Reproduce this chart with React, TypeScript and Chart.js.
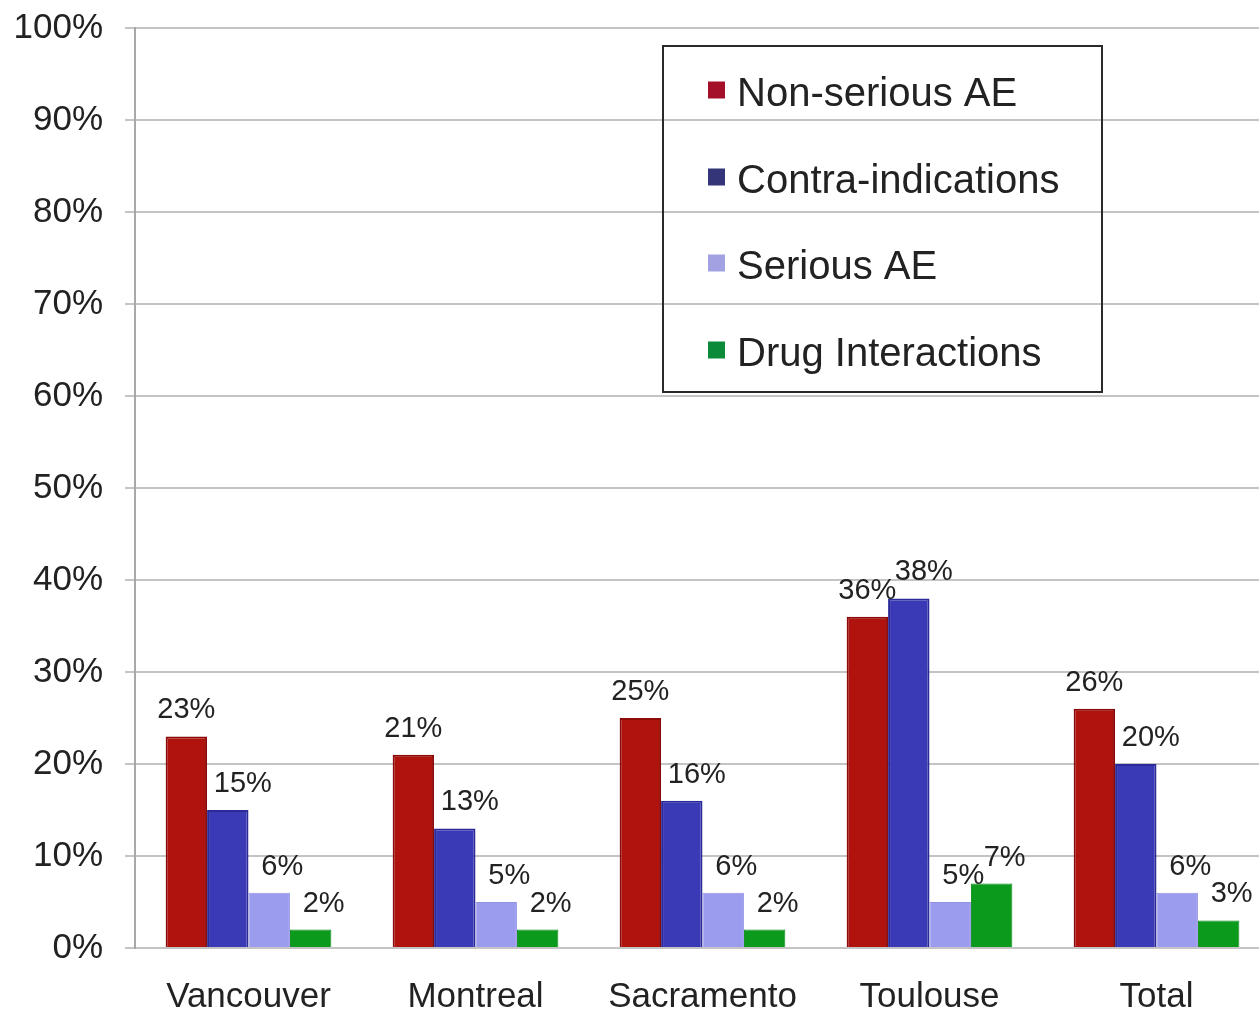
import { useEffect, useRef } from "react";
import { Chart, registerables } from "chart.js";

Chart.register(...registerables);

// Sites and the overall total
const categories = ["Vancouver", "Montreal", "Sacramento", "Toulouse", "Total"];

// Share of cases (%) per issue type
const nonSeriousAE = [23, 21, 25, 36, 26];
const contraIndications = [15, 13, 16, 38, 20];
const seriousAE = [6, 5, 6, 5, 6];
const drugInteractions = [2, 2, 2, 7, 3];

const seriesNames = ["Non-serious AE", "Contra-indications", "Serious AE", "Drug Interactions"];

const FONT = "'Liberation Sans', Arial, Helvetica, sans-serif";
const TEXT = "#222222";

// Percent labels drawn above each bar
const valueLabels = {
  id: "valueLabels",
  afterDatasetsDraw(chart: any) {
    const ctx = chart.ctx;
    ctx.save();
    ctx.font = `29px ${FONT}`;
    ctx.fillStyle = TEXT;
    ctx.textAlign = "center";
    ctx.textBaseline = "middle";
    chart.data.datasets.forEach((ds: any, di: number) => {
      const meta = chart.getDatasetMeta(di);
      const dx = ds.labelShift || 0;
      meta.data.forEach((bar: any, i: number) => {
        ctx.fillText(`${ds.data[i]}%`, bar.x + dx, bar.y - 26);
      });
    });
    ctx.restore();
  },
};

// Boxed legend sitting inside the plot area (transparent background)
const boxLegend = {
  id: "boxLegend",
  afterDraw(chart: any, _args: any, opts: any) {
    const ctx = chart.ctx;
    const { x, y, w, h, rowY, markerX, markerSize, textX } = opts;
    ctx.save();
    ctx.strokeStyle = "#2a2a2a";
    ctx.lineWidth = 2;
    ctx.strokeRect(x, y, w, h);
    ctx.font = `40px ${FONT}`;
    ctx.textAlign = "left";
    ctx.textBaseline = "middle";
    chart.data.datasets.forEach((ds: any, i: number) => {
      const cy = rowY[i];
      ctx.fillStyle = ds.legendColor || ds.backgroundColor;
      ctx.fillRect(markerX, cy - markerSize / 2 - 5, markerSize, markerSize);
      ctx.fillStyle = TEXT;
      ctx.fillText(ds.label, textX, cy);
    });
    ctx.restore();
  },
};

export default function App() {
  const canvasRef = useRef<HTMLCanvasElement | null>(null);

  useEffect(() => {
    if (!canvasRef.current) return;
    const chart = new Chart(canvasRef.current, {
      type: "bar",
      data: {
        labels: categories,
        datasets: [
          {
            label: seriesNames[0],
            data: nonSeriousAE,
            backgroundColor: "#b0120e",
            borderColor: "#8c0a08",
            borderWidth: 2,
            legendColor: "#a4102a",
            labelShift: 0,
          } as any,
          {
            label: seriesNames[1],
            data: contraIndications,
            backgroundColor: "#3a3ab6",
            borderColor: "#2a2a98",
            borderWidth: 2,
            legendColor: "#343478",
            labelShift: 15,
          } as any,
          {
            label: seriesNames[2],
            data: seriousAE,
            backgroundColor: "#9c9cef",
            borderColor: "#9292e4",
            borderWidth: 1,
            legendColor: "#a2a2e2",
            labelShift: 13,
          } as any,
          {
            label: seriesNames[3],
            data: drugInteractions,
            backgroundColor: "#0c9a1c",
            borderColor: "#0a8a18",
            borderWidth: 1,
            legendColor: "#0b8a3a",
            labelShift: 13,
          } as any,
        ],
      },
      options: {
        animation: false,
        responsive: false,
        devicePixelRatio: 1,
        layout: { padding: { top: 28, right: 2, left: 0, bottom: 0 } },
        datasets: { bar: { categoryPercentage: 0.73, barPercentage: 1.0 } },
        plugins: {
          legend: { display: false },
          tooltip: { enabled: false },
          boxLegend: {
            x: 663,
            y: 46,
            w: 439,
            h: 346,
            rowY: [95, 182, 268, 355],
            markerX: 708,
            markerSize: 17,
            textX: 737,
          },
        } as any,
        scales: {
          x: {
            grid: { display: false, drawTicks: false },
            border: { display: true, color: "#c4c4c4", width: 2 },
            ticks: {
              color: TEXT,
              font: { family: FONT, size: 35 },
              padding: 28,
              maxRotation: 0,
            },
            afterFit(scale: any) {
              scale.height = 66;
              scale.paddingLeft = 0;
              scale.paddingRight = 0;
            },
          },
          y: {
            min: 0,
            max: 100,
            grid: { color: "#c4c4c4", lineWidth: 2, tickLength: 10 },
            border: { display: true, color: "#a8a8a8", width: 2 },
            ticks: {
              stepSize: 10,
              color: TEXT,
              font: { family: FONT, size: 35 },
              padding: 22,
              callback: (v: any) => `${v}%`,
            },
            afterFit(scale: any) {
              scale.width = 135;
              scale.paddingTop = 0;
              scale.paddingBottom = 0;
            },
          },
        },
      },
      plugins: [valueLabels, boxLegend],
    });
    return () => chart.destroy();
  }, []);

  return (
    <div
      style={{
        position: "fixed",
        left: 0,
        top: 0,
        width: 1259,
        height: 1014,
        overflow: "hidden",
        background: "#ffffff",
      }}
    >
      <canvas ref={canvasRef} width={1272} height={1014} style={{ display: "block" }} />
    </div>
  );
}
